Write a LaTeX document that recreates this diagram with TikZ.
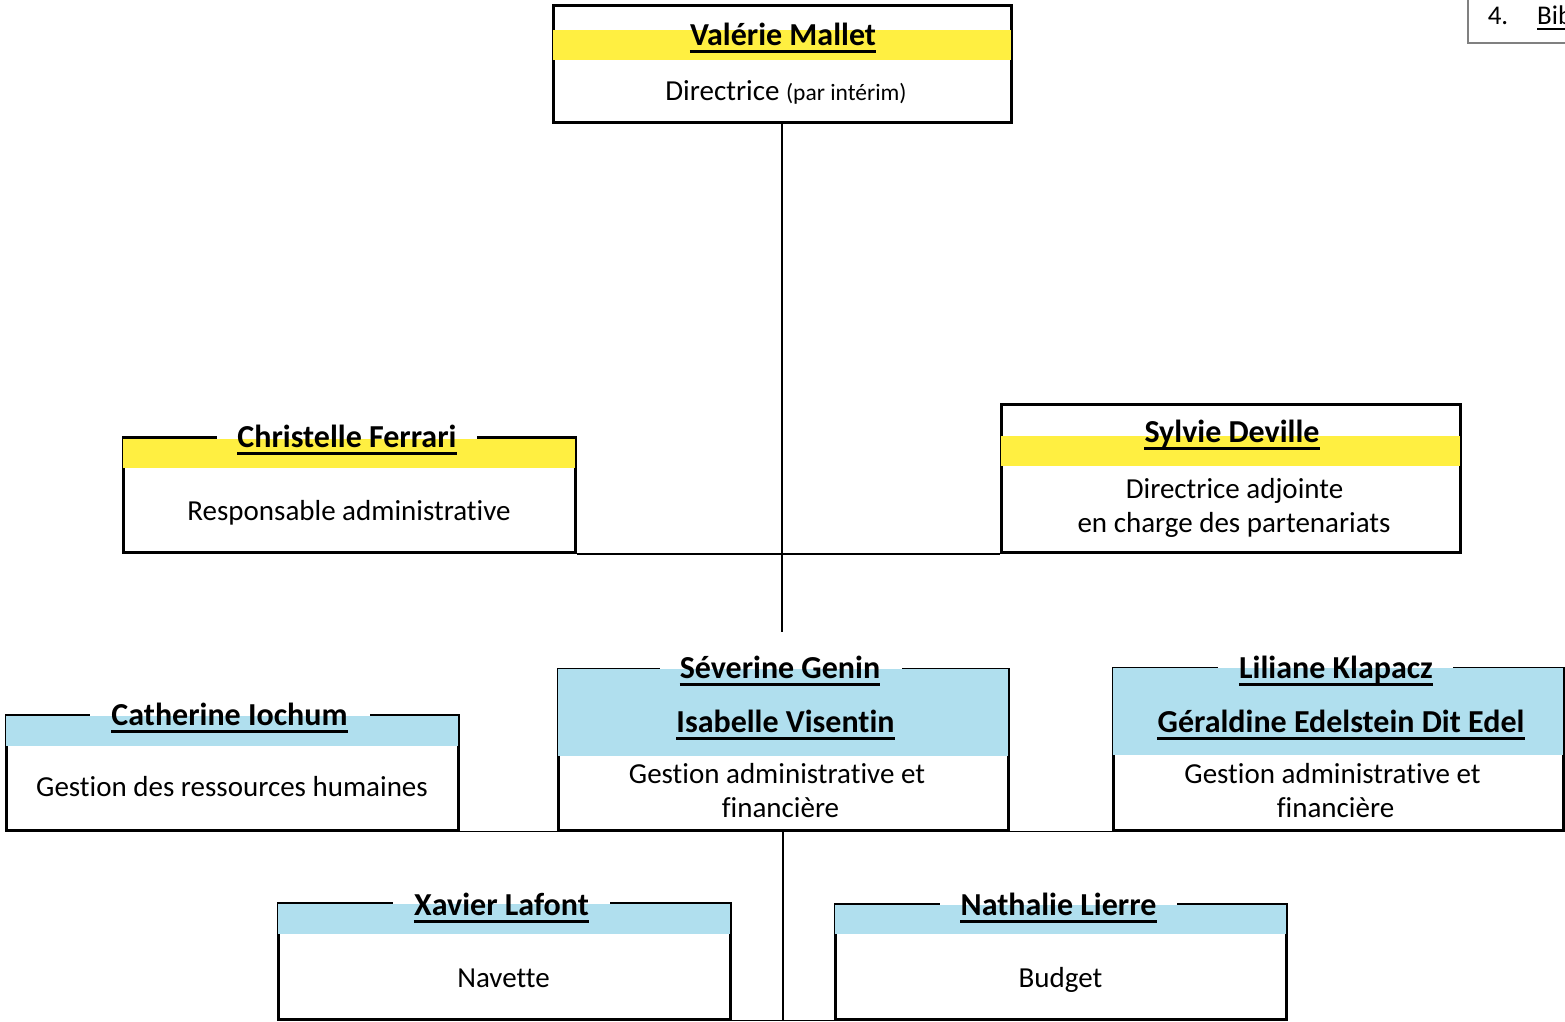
\documentclass[tikz,border=0pt]{standalone}
\usepackage{fontspec}
\setmainfont{Carlito}[Ligatures={NoCommon,NoContextual}, RawFeature={-liga;-clig;-calt;-dlig}]
\definecolor{bandyellow}{RGB}{255,239,65}
\definecolor{bandblue}{RGB}{176,223,238}
\tikzset{
  frame/.style={draw, line width=3pt, inner sep=0pt},
  person/.style={font=\bfseries\fontsize{32}{38}\selectfont, anchor=base, inner sep=0pt},
  job/.style={font=\fontsize{29}{35}\selectfont, anchor=base, inner sep=0pt},
  uline/.style={line width=2.5pt},
  link/.style={line width=2pt},
  thinlink/.style={line width=1.5pt},
}
\begin{document}
\begin{tikzpicture}[x=1pt, y=-1pt]
  \useasboundingbox (0,0) rectangle (1565,1021);

  % corner of the page index
  \node[draw=gray, line width=2pt, minimum width=144pt, minimum height=66pt] (toc) at (1540,10) {};
  \node[job, font=\fontsize{27}{32}\selectfont] (tocnum) at (1498,24) {4.};
  \node[job, anchor=base west, font=\fontsize{27}{32}\selectfont] (tocword) at (1537,24) {Bib};
  \draw[line width=2pt] ([yshift=-5pt]tocword.base west) -- ([yshift=-5pt]tocword.base east);

  % boxes
  \node[frame, minimum width=458pt, minimum height=117pt] (mallet) at (782,63.5) {};
  \node[frame, minimum width=452pt, minimum height=115pt] (ferrari) at (349,494.5) {};
  \node[frame, minimum width=459pt, minimum height=148pt] (deville) at (1230.5,478) {};
  \node[frame, minimum width=452pt, minimum height=115pt] (iochum) at (232,772.5) {};
  \node[frame, minimum width=450pt, minimum height=161pt] (genin) at (783,749.5) {};
  \node[frame, minimum width=450pt, minimum height=162pt] (klapacz) at (1338,749) {};
  \node[frame, minimum width=452pt, minimum height=116pt] (lafont) at (504,961) {};
  \node[frame, minimum width=451pt, minimum height=115pt] (lierre) at (1060.5,961.5) {};

  % gaps in the top edges
  \foreach \xa/\xb/\ya in {217/477/437, 90/370/715, 660/902/669, 1218/1453/668, 393/610/903, 940/1177/904}
    \fill[white] (\xa,\ya-2.5) rectangle (\xb,\ya+1.6);

  % coloured bands
  \foreach \b/\c/\t/\h in {mallet/bandyellow/26/56, ferrari/bandyellow/3/32, deville/bandyellow/33/63,
      iochum/bandblue/2/32, genin/bandblue/1.6/88, klapacz/bandblue/1.6/88, lafont/bandblue/2/32, lierre/bandblue/2/31}
    \fill[\c] ([xshift=1.5pt,yshift=-\t pt]\b.north west) rectangle ([xshift=-1.5pt,yshift=-\h pt]\b.north east);

  % names
  \node[person] (malletN) at (783,45) {Valérie Mallet};
  \node[person] (ferrariN) at (347,447) {Christelle Ferrari};
  \node[person] (devilleN) at (1232,442) {Sylvie Deville};
  \node[person] (iochumN) at (229.5,725) {Catherine Iochum};
  \node[person] (geninN) at (780,678) {Séverine Genin};
  \node[person] (visentinN) at (785.5,732) {Isabelle Visentin};
  \node[person] (klapaczN) at (1336,678) {Liliane Klapacz};
  \node[person] (edelN) at (1341,732) {Géraldine Edelstein Dit Edel};
  \node[person] (lafontN) at (501.5,915) {Xavier Lafont};
  \node[person] (lierreN) at (1058.5,915) {Nathalie Lierre};
  \foreach \n in {malletN, ferrariN, devilleN, iochumN, geninN, visentinN, klapaczN, edelN, lafontN, lierreN}
    \draw[uline] ([yshift=-6.5pt]\n.base west) -- ([yshift=-6.5pt]\n.base east);

  % jobs
  \node[job] (malletT) at (786,100) {Directrice {\fontsize{23.5}{28}\selectfont (par intérim)}};
  \node[job] (ferrariT) at (349,520) {Responsable administrative};
  \node[job] (devilleT1) at (1234.5,498) {Directrice adjointe};
  \node[job] (devilleT2) at (1234,532) {en charge des partenariats};
  \node[job] (iochumT) at (232,796) {Gestion des ressources humaines};
  \node[job] (geninT1) at (777,783) {Gestion administrative et};
  \node[job] (geninT2) at (780.5,817) {financière};
  \node[job] (klapaczT1) at (1332.5,783) {Gestion administrative et};
  \node[job] (klapaczT2) at (1335.5,817) {financière};
  \node[job] (lafontT) at (503.5,987) {Navette};
  \node[job] (lierreT) at (1060.5,987) {Budget};

  % links
  \coordinate (drop) at (782,632);
  \coordinate (foot) at (783,1020);
  \draw[link] (mallet.south) -- (drop);
  \draw[link] (ferrari.south east) -- (deville.south west);
  \draw[thinlink] (iochum.south east) -- (genin.south west);
  \draw[thinlink] (genin.south east) -- (klapacz.south west);
  \draw[link] (genin.south) -- (foot);
  \draw[thinlink] (lafont.south east) -- (lierre.south west);
\end{tikzpicture}
\end{document}
